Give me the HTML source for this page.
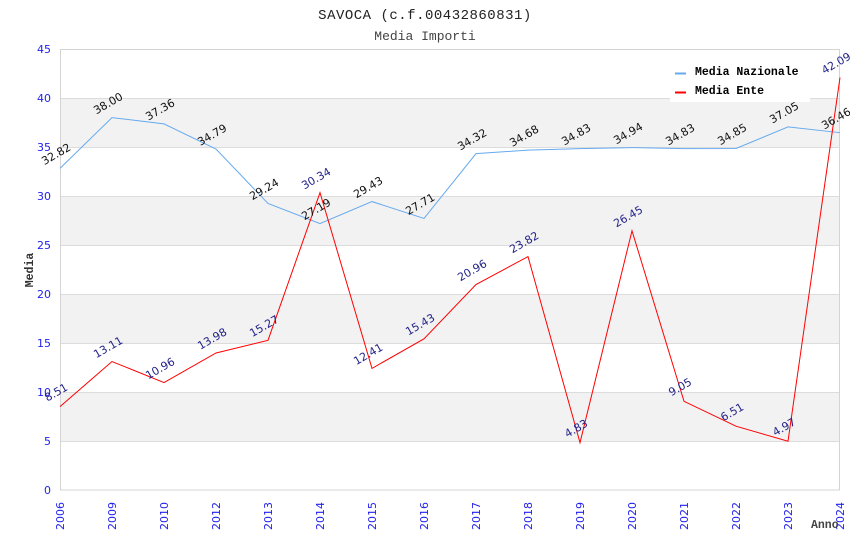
<!DOCTYPE html>
<html><head><meta charset="utf-8"><style>
html,body{margin:0;padding:0;background:#fff;}
svg{display:block;}
</style></head><body>
<svg width="850" height="550" viewBox="0 0 850 550" xmlns="http://www.w3.org/2000/svg">
<rect x="0" y="0" width="850" height="550" fill="#fff"/>
<!-- bands -->
<g fill="#f2f2f2">
<rect x="60" y="98" width="780" height="49"/>
<rect x="60" y="196" width="780" height="49"/>
<rect x="60" y="294" width="780" height="49"/>
<rect x="60" y="392" width="780" height="49"/>
</g>
<g stroke="#dcdcdc" stroke-width="1" shape-rendering="crispEdges">
<line x1="60" y1="98.5" x2="840" y2="98.5"/>
<line x1="60" y1="147.5" x2="840" y2="147.5"/>
<line x1="60" y1="196.5" x2="840" y2="196.5"/>
<line x1="60" y1="245.5" x2="840" y2="245.5"/>
<line x1="60" y1="294.5" x2="840" y2="294.5"/>
<line x1="60" y1="343.5" x2="840" y2="343.5"/>
<line x1="60" y1="392.5" x2="840" y2="392.5"/>
<line x1="60" y1="441.5" x2="840" y2="441.5"/>
</g>
<rect x="60.5" y="49.5" width="779" height="440.5" fill="none" stroke="#d4d4d4" stroke-width="1" shape-rendering="crispEdges"/>

<!-- titles -->
<text x="425" y="19" text-anchor="middle" font-family="'Liberation Mono','DejaVu Sans Mono',monospace" font-size="14" letter-spacing="0.5" fill="#222">SAVOCA (c.f.00432860831)</text>
<text x="425" y="40" text-anchor="middle" font-family="'Liberation Mono','DejaVu Sans Mono',monospace" font-size="13" fill="#444">Media Importi</text>

<!-- y ticks -->
<g font-family="'DejaVu Sans','Liberation Sans',sans-serif" font-size="11" fill="#2222ee" text-anchor="end">
<text x="51" y="53">45</text>
<text x="51" y="102">40</text>
<text x="51" y="151">35</text>
<text x="51" y="200">30</text>
<text x="51" y="249">25</text>
<text x="51" y="298">20</text>
<text x="51" y="347">15</text>
<text x="51" y="396">10</text>
<text x="51" y="445">5</text>
<text x="51" y="494">0</text>
</g>
<text transform="translate(33,270) rotate(-90)" text-anchor="middle" font-family="'Liberation Mono','DejaVu Sans Mono',monospace" font-size="11.5" font-weight="bold" fill="#333">Media</text>

<!-- x ticks -->
<g font-family="'DejaVu Sans','Liberation Sans',sans-serif" font-size="11" fill="#2222ee" text-anchor="end">
<text transform="translate(64,502) rotate(-90)">2006</text>
<text transform="translate(116,502) rotate(-90)">2009</text>
<text transform="translate(168,502) rotate(-90)">2010</text>
<text transform="translate(220,502) rotate(-90)">2012</text>
<text transform="translate(272,502) rotate(-90)">2013</text>
<text transform="translate(324,502) rotate(-90)">2014</text>
<text transform="translate(376,502) rotate(-90)">2015</text>
<text transform="translate(428,502) rotate(-90)">2016</text>
<text transform="translate(480,502) rotate(-90)">2017</text>
<text transform="translate(532,502) rotate(-90)">2018</text>
<text transform="translate(584,502) rotate(-90)">2019</text>
<text transform="translate(636,502) rotate(-90)">2020</text>
<text transform="translate(688,502) rotate(-90)">2021</text>
<text transform="translate(740,502) rotate(-90)">2022</text>
<text transform="translate(792,502) rotate(-90)">2023</text>
<text transform="translate(844,502) rotate(-90)">2024</text>
</g>
<text x="811" y="528" font-family="'Liberation Mono','DejaVu Sans Mono',monospace" font-size="11.5" font-weight="bold" fill="#444">Anno</text>

<!-- legend -->
<rect x="670" y="56" width="140" height="46" fill="#fff"/>
<line x1="675" y1="73.5" x2="686" y2="73.5" stroke="#66aaee" stroke-width="2"/>
<line x1="675" y1="92.5" x2="686" y2="92.5" stroke="#ff0000" stroke-width="2"/>
<g font-family="'Liberation Mono','DejaVu Sans Mono',monospace" font-size="11.5" font-weight="bold" fill="#000">
<text x="695" y="75">Media Nazionale</text>
<text x="695" y="94">Media Ente</text>
</g>

<!-- series -->
<polyline fill="none" stroke="#66aaee" stroke-width="1" points="60,168.36 112,117.6 164,123.87 216,149.06 268,203.45 320,223.54 372,201.59 424,218.44 476,153.66 528,150.14 580,148.67 632,147.59 684,148.67 736,148.47 788,126.91 840,132.69"/>
<polyline fill="none" stroke="#ff0000" stroke-width="1" points="60,406.6 112,361.52 164,382.59 216,353.0 268,340.35 320,192.67 372,368.38 424,338.79 476,284.59 528,256.56 580,442.67 632,230.79 684,401.31 736,426.2 788,441.29 840,77.52"/>

<!-- labels nazionale -->
<g font-family="'DejaVu Sans','Liberation Sans',sans-serif" font-size="11" fill="#111" text-anchor="middle">
<text transform="translate(58,157.4) rotate(-30)">32.82</text>
<text transform="translate(110,106.6) rotate(-30)">38.00</text>
<text transform="translate(162,112.9) rotate(-30)">37.36</text>
<text transform="translate(214,138.1) rotate(-30)">34.79</text>
<text transform="translate(266,192.5) rotate(-30)">29.24</text>
<text transform="translate(318,212.5) rotate(-30)">27.19</text>
<text transform="translate(370,190.6) rotate(-30)">29.43</text>
<text transform="translate(422,207.4) rotate(-30)">27.71</text>
<text transform="translate(474,142.7) rotate(-30)">34.32</text>
<text transform="translate(526,139.1) rotate(-30)">34.68</text>
<text transform="translate(578,137.7) rotate(-30)">34.83</text>
<text transform="translate(630,136.6) rotate(-30)">34.94</text>
<text transform="translate(682,137.7) rotate(-30)">34.83</text>
<text transform="translate(734,137.5) rotate(-30)">34.85</text>
<text transform="translate(786,115.9) rotate(-30)">37.05</text>
<text transform="translate(838,121.7) rotate(-30)">36.46</text>
</g>
<!-- labels ente -->
<g font-family="'DejaVu Sans','Liberation Sans',sans-serif" font-size="11" fill="#222288" text-anchor="middle">
<text transform="translate(58,395.6) rotate(-30)">8.51</text>
<text transform="translate(110,350.5) rotate(-30)">13.11</text>
<text transform="translate(162,371.6) rotate(-30)">10.96</text>
<text transform="translate(214,342.0) rotate(-30)">13.98</text>
<text transform="translate(266,329.4) rotate(-30)">15.27</text>
<text transform="translate(318,181.7) rotate(-30)">30.34</text>
<text transform="translate(370,357.4) rotate(-30)">12.41</text>
<text transform="translate(422,327.8) rotate(-30)">15.43</text>
<text transform="translate(474,273.6) rotate(-30)">20.96</text>
<text transform="translate(526,245.6) rotate(-30)">23.82</text>
<text transform="translate(578,431.7) rotate(-30)">4.83</text>
<text transform="translate(630,219.8) rotate(-30)">26.45</text>
<text transform="translate(682,390.3) rotate(-30)">9.05</text>
<text transform="translate(734,415.2) rotate(-30)">6.51</text>
<text transform="translate(786,430.3) rotate(-30)">4.97</text>
<text transform="translate(838,66.5) rotate(-30)">42.09</text>
</g>
</svg>
</body></html>
